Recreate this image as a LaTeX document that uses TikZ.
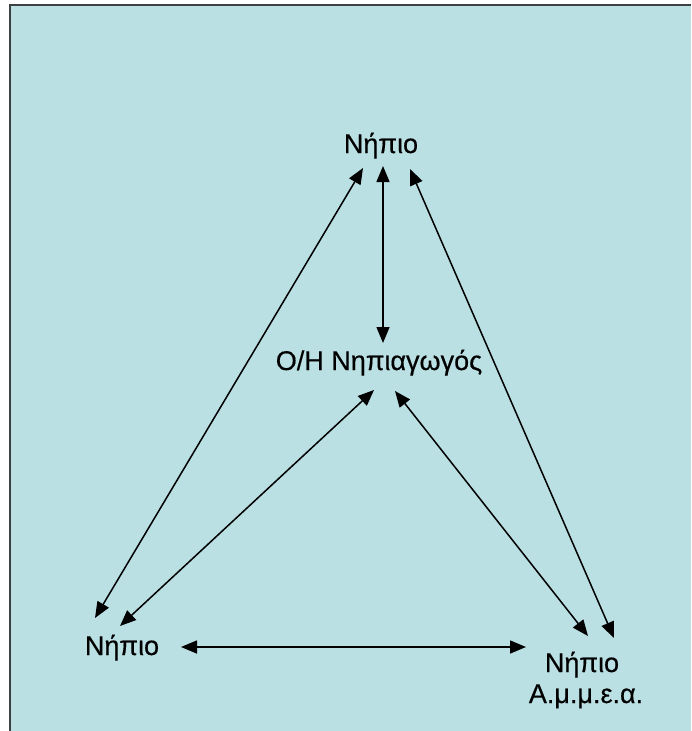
\documentclass[tikz,border=0pt]{standalone}
\usepackage{fontspec}
\setmainfont{Liberation Sans}[FakeBold=0.4]
\usetikzlibrary{arrows.meta}
\definecolor{panel}{RGB}{186,224,228}
\definecolor{frame}{RGB}{60,66,68}
\begin{document}
\begin{tikzpicture}[x=1pt,y=-1pt,
  lbl/.style={inner sep=0pt,anchor=base,font=\fontsize{27}{31}\selectfont},
  link/.style={line width=1.5pt,{Triangle[length=16pt,width=13pt]}-{Triangle[length=16pt,width=13pt]}}]
  \useasboundingbox (0,0) rectangle (691,731);
  % panel with its frame on the left and top
  \fill[white] (0,0) rectangle (691,731);
  \fill[panel] (10,5) rectangle (691,731);
  \draw[frame,line width=1.6pt] (10,731) -- (10,5) -- (691,5);

  % labels
  \node[lbl] (top) at (381,153) {Νήπιο};
  \node[lbl] (mid) at (379,370) {Ο/Η Νηπιαγωγός};
  \node[lbl] (bl)  at (122,655) {Νήπιο};
  \node[lbl] (br)  at (582,672) {Νήπιο};
  \node[lbl] (br2) at (586,703) {Α.μ.μ.ε.α.};

  % arrow ends
  \coordinate (tA) at (363,168);
  \coordinate (tB) at (383,166);
  \coordinate (tC) at (410,169);
  \coordinate (mB) at (383,343);
  \coordinate (mD) at (374,390);
  \coordinate (mE) at (395,391);
  \coordinate (lA) at (95,618);
  \coordinate (lD) at (120,626);
  \coordinate (lF) at (181,647);
  \coordinate (rE) at (588,636);
  \coordinate (rC) at (614,638);
  \coordinate (rF) at (526,647);

  \draw[link] (tA) -- (lA);
  \draw[link] (tB) -- (mB);
  \draw[link] (tC) -- (rC);
  \draw[link] (mD) -- (lD);
  \draw[link] (mE) -- (rE);
  \draw[link] (lF) -- (rF);
\end{tikzpicture}
\end{document}
